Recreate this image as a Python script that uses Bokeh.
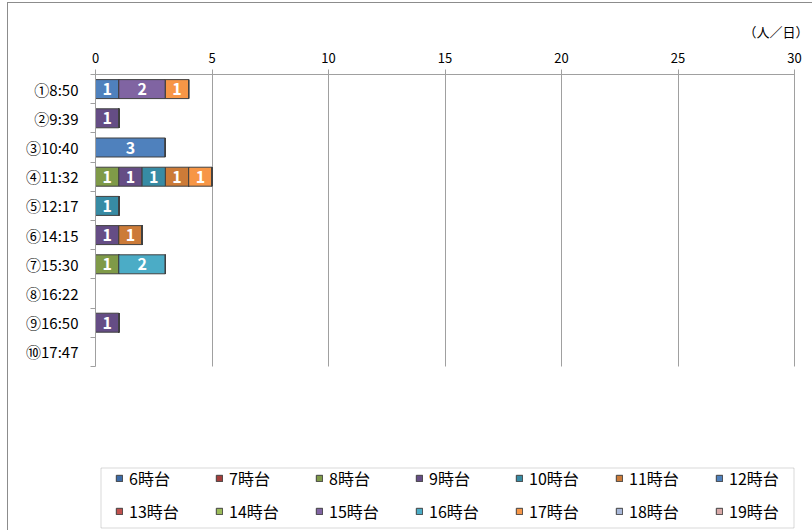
from bokeh.plotting import figure
from bokeh.models import (ColumnDataSource, Range1d, FixedTicker, Legend, LegendItem,
                          BoxAnnotation)
from bokeh.core.properties import value
from bokeh.embed import file_html
from bokeh.resources import INLINE

# ---- data ----
times = ["①8:50", "②9:39", "③10:40", "④11:32", "⑤12:17",
         "⑥14:15", "⑦15:30", "⑧16:22", "⑨16:50", "⑩17:47"]
hours = ["6時台", "7時台", "8時台", "9時台", "10時台", "11時台", "12時台",
         "13時台", "14時台", "15時台", "16時台", "17時台", "18時台", "19時台"]
h06 = [0, 0, 0, 0, 0, 0, 0, 0, 0, 0]
h07 = [0, 0, 0, 0, 0, 0, 0, 0, 0, 0]
h08 = [0, 0, 0, 1, 0, 0, 1, 0, 0, 0]
h09 = [0, 1, 0, 1, 0, 1, 0, 0, 1, 0]
h10 = [0, 0, 0, 1, 1, 0, 0, 0, 0, 0]
h11 = [0, 0, 0, 1, 0, 1, 0, 0, 0, 0]
h12 = [1, 0, 3, 0, 0, 0, 0, 0, 0, 0]
h13 = [0, 0, 0, 0, 0, 0, 0, 0, 0, 0]
h14 = [0, 0, 0, 0, 0, 0, 0, 0, 0, 0]
h15 = [2, 0, 0, 0, 0, 0, 0, 0, 0, 0]
h16 = [0, 0, 0, 0, 0, 0, 2, 0, 0, 0]
h17 = [1, 0, 0, 1, 0, 0, 0, 0, 0, 0]
h18 = [0, 0, 0, 0, 0, 0, 0, 0, 0, 0]
h19 = [0, 0, 0, 0, 0, 0, 0, 0, 0, 0]
series = [h06, h07, h08, h09, h10, h11, h12, h13, h14, h15, h16, h17, h18, h19]
colors = ["#3C6BA7", "#A33E3B", "#7F9A48", "#654D85", "#378BA4", "#CC7B38", "#4F81BD",
          "#C0504D", "#9BBB59", "#8064A2", "#4BACC6", "#F79646", "#A9B8D9", "#D8A9A8"]
x_ticks = [0, 5, 10, 15, 20, 25, 30]
unit_text = "（人／日）"

JP = "Noto Sans CJK JP"
GRAY = "#A0A0A0"

n = len(times)
x_max = x_ticks[-1]
# frame spans a little past 30 (so the unit label fits) and down to the canvas bottom
# (so the legend, drawn inside it, is not clipped); axis and grid stop at the data extent
x_end = x_max * 713 / 699
y_bottom = n * 456 / 292

p = figure(width=804, height=527, output_backend="svg", toolbar_location=None,
           x_range=Range1d(0, x_end), y_range=Range1d(y_bottom, 0), x_axis_location="above",
           min_border_left=87, min_border_right=4, min_border_top=71, min_border_bottom=0)
p.margin = (3, 0, 0, 8)
p.styles = {"outline": "1px solid #8C8C8C"}
p.outline_line_color = None
p.background_fill_color = "white"
p.border_fill_color = "white"

# unit label
p.title.text = unit_text
p.title.align = "right"
p.title.offset = 0
p.title.text_font = JP
p.title.text_font_size = "13px"
p.title.text_font_style = "normal"
p.title.text_color = "#000000"
p.title.standoff = 18

centers = [i + 0.5 for i in range(n)]

# x axis (top)
p.xaxis.ticker = FixedTicker(ticks=x_ticks)
p.xaxis.bounds = (0, x_max)
p.xaxis.axis_line_color = GRAY
p.xaxis.major_tick_line_color = GRAY
p.xaxis.major_tick_in = 5
p.xaxis.major_tick_out = 5
p.xaxis.minor_tick_line_color = None
p.xaxis.major_label_text_font = JP
p.xaxis.major_label_text_font_size = "13px"
p.xaxis.major_label_text_color = "#000000"
p.xaxis.major_label_standoff = 7

# y axis (left)
p.yaxis.ticker = FixedTicker(ticks=centers, minor_ticks=list(range(n + 1)))
p.yaxis.bounds = (0, n)
p.yaxis.major_label_overrides = {c: t for c, t in zip(centers, times)}
p.yaxis.axis_line_color = GRAY
p.yaxis.major_tick_line_color = None
p.yaxis.major_tick_in = 0
p.yaxis.major_tick_out = 0
p.yaxis.minor_tick_line_color = GRAY
p.yaxis.minor_tick_in = 0
p.yaxis.minor_tick_out = 5
p.yaxis.major_label_text_font = JP
p.yaxis.major_label_text_font_size = "15px"
p.yaxis.major_label_text_color = "#000000"
p.yaxis.major_label_standoff = 12

p.xgrid.ticker = FixedTicker(ticks=x_ticks)
p.xgrid.grid_line_color = GRAY
p.xgrid.cross_bounds = (0, n)
p.ygrid.visible = False

# bars (stacked left to right in hour order)
totals = [sum(col) for col in zip(*series)]
row_alpha = [1 if t > 0 else 0 for t in totals]   # no outline on empty rows
cum = [0] * n
items = []
lx, ly, lt = [], [], []
for name, vals, col in zip(hours, series, colors):
    lefts = list(cum)
    rights = [c + v for c, v in zip(cum, vals)]
    src = ColumnDataSource(dict(y=centers, left=lefts, right=rights, la=row_alpha))
    r = p.hbar(y="y", left="left", right="right", height=0.65, source=src,
               fill_color=col, line_color="#404040", line_width=1, line_alpha="la")
    items.append(LegendItem(label=name, renderers=[r], index=0))
    for i, v in enumerate(vals):
        if v:
            lx.append(cum[i] + v / 2)
            ly.append(centers[i])
            lt.append(str(v))
    cum = rights

p.text(x=lx, y=ly, text=lt, text_color="white", text_font=value(JP),
       text_font_style="bold", text_font_size="16px",
       text_align="center", text_baseline="middle")

legend = Legend(items=items, location=(20, 7), orientation="horizontal", ncols=7,
                glyph_width=8, glyph_height=8, label_standoff=6, label_width=77,
                label_height=20, spacing=9, padding=6,
                label_text_font=JP, label_text_font_size="16px",
                label_text_color="#000000",
                border_line_color=None, background_fill_alpha=0)
p.add_layout(legend, "center")

p.add_layout(BoxAnnotation(left=92.5, right=785.5, top=464.5, bottom=524.5,
                           left_units="canvas", right_units="canvas",
                           top_units="canvas", bottom_units="canvas",
                           fill_alpha=0, line_color="#808080", line_width=1))

open("out.html", "w").write(file_html(p, INLINE))
